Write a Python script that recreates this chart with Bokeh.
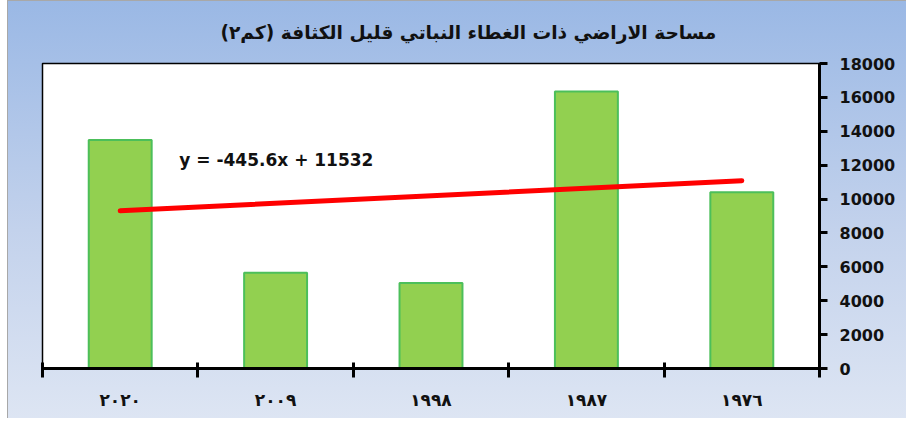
from bokeh.plotting import figure
from bokeh.models import Range1d, FixedTicker, ColumnDataSource, Label
from bokeh.embed import file_html
from bokeh.resources import INLINE

# Data (x index 1 = 1976 ... 5 = 2020, as in the trendline equation)
years = ["١٩٧٦", "١٩٨٧", "١٩٩٨", "٢٠٠٩", "٢٠٢٠"]
x_index = [1, 2, 3, 4, 5]
areas = [10400, 16350, 5050, 5650, 13480]
trend_slope = -445.6
trend_intercept = 11532
y_ticks = [0, 2000, 4000, 6000, 8000, 10000, 12000, 14000, 16000, 18000]
title_text = "مساحة الاراضي ذات الغطاء النباتي قليل الكثافة (كم٢)"
equation_text = "y = -445.6x + 11532"

W, H = 906, 418
p = figure(width=W, height=H, output_backend="svg", toolbar_location=None,
           x_range=Range1d(5.5, 0.5), y_range=Range1d(0, 18000),
           y_axis_location="right", min_border_left=42, min_border_right=87,
           min_border_top=63, min_border_bottom=50)
p.styles = {"background": ("linear-gradient(to right, #ffffff 0px, #ffffff 7px, #a8a8a8 7px, #a8a8a8 8px, transparent 8px), "
                           "linear-gradient(to bottom, #a8a8a8 0px, #a8a8a8 1px, transparent 1px), "
                           "linear-gradient(to bottom, #9ab8e5 0%, #c3d2ec 55%, #dde5f3 100%)")}
p.border_fill_color = None
p.background_fill_color = "white"
p.outline_line_color = "black"
p.outline_line_width = 1.5
p.xgrid.visible = False
p.ygrid.visible = False

p.title.text = title_text
p.title.align = "left"
p.title.offset = 178
p.title.vertical_align = "top"
p.title.text_font = "DejaVu Sans"
p.title.text_font_style = "bold"
p.title.text_font_size = "18.6px"
p.title.text_color = "#111111"
p.title.standoff = 38

src = ColumnDataSource(dict(x=x_index, top=areas))
p.vbar(x="x", top="top", bottom=0, width=0.405, source=src,
       fill_color="#92d050", line_color="#4cbf5a", line_width=2)

tx = [x_index[0], x_index[-1]]
ty = [trend_slope * v + trend_intercept for v in tx]
p.line(tx, ty, line_color="#ff0000", line_width=5, line_cap="round")

p.add_layout(Label(x=4.62, y=12300, text=equation_text, text_font="DejaVu Sans",
                   text_font_style="bold", text_font_size="17px", text_color="#111111",
                   text_baseline="middle"))

xa = p.xaxis[0]
xa.ticker = FixedTicker(ticks=x_index, minor_ticks=[0.5, 1.5, 2.5, 3.5, 4.5, 5.5])
xa.major_label_overrides = {i: y for i, y in zip(x_index, years)}
xa.axis_line_width = 3
xa.axis_line_color = "black"
xa.major_tick_line_alpha = 0
xa.major_tick_in = 0
xa.major_tick_out = 9
xa.minor_tick_in = 6
xa.minor_tick_out = 9
xa.minor_tick_line_width = 3
xa.minor_tick_line_color = "black"
xa.major_label_standoff = 12
xa.major_label_text_font = "DejaVu Sans"
xa.major_label_text_font_style = "bold"
xa.major_label_text_font_size = "17px"
xa.major_label_text_color = "#111111"

ya = p.yaxis[0]
ya.ticker = FixedTicker(ticks=y_ticks)
ya.minor_tick_line_color = None
ya.axis_line_width = 3
ya.axis_line_color = "black"
ya.major_tick_line_width = 3
ya.major_tick_line_color = "black"
ya.major_tick_in = 0
ya.major_tick_out = 8
ya.major_label_standoff = 12
ya.major_label_text_font = "DejaVu Sans"
ya.major_label_text_font_style = "bold"
ya.major_label_text_font_size = "16px"
ya.major_label_text_color = "#111111"

open("out.html", "w").write(file_html(p, INLINE))
